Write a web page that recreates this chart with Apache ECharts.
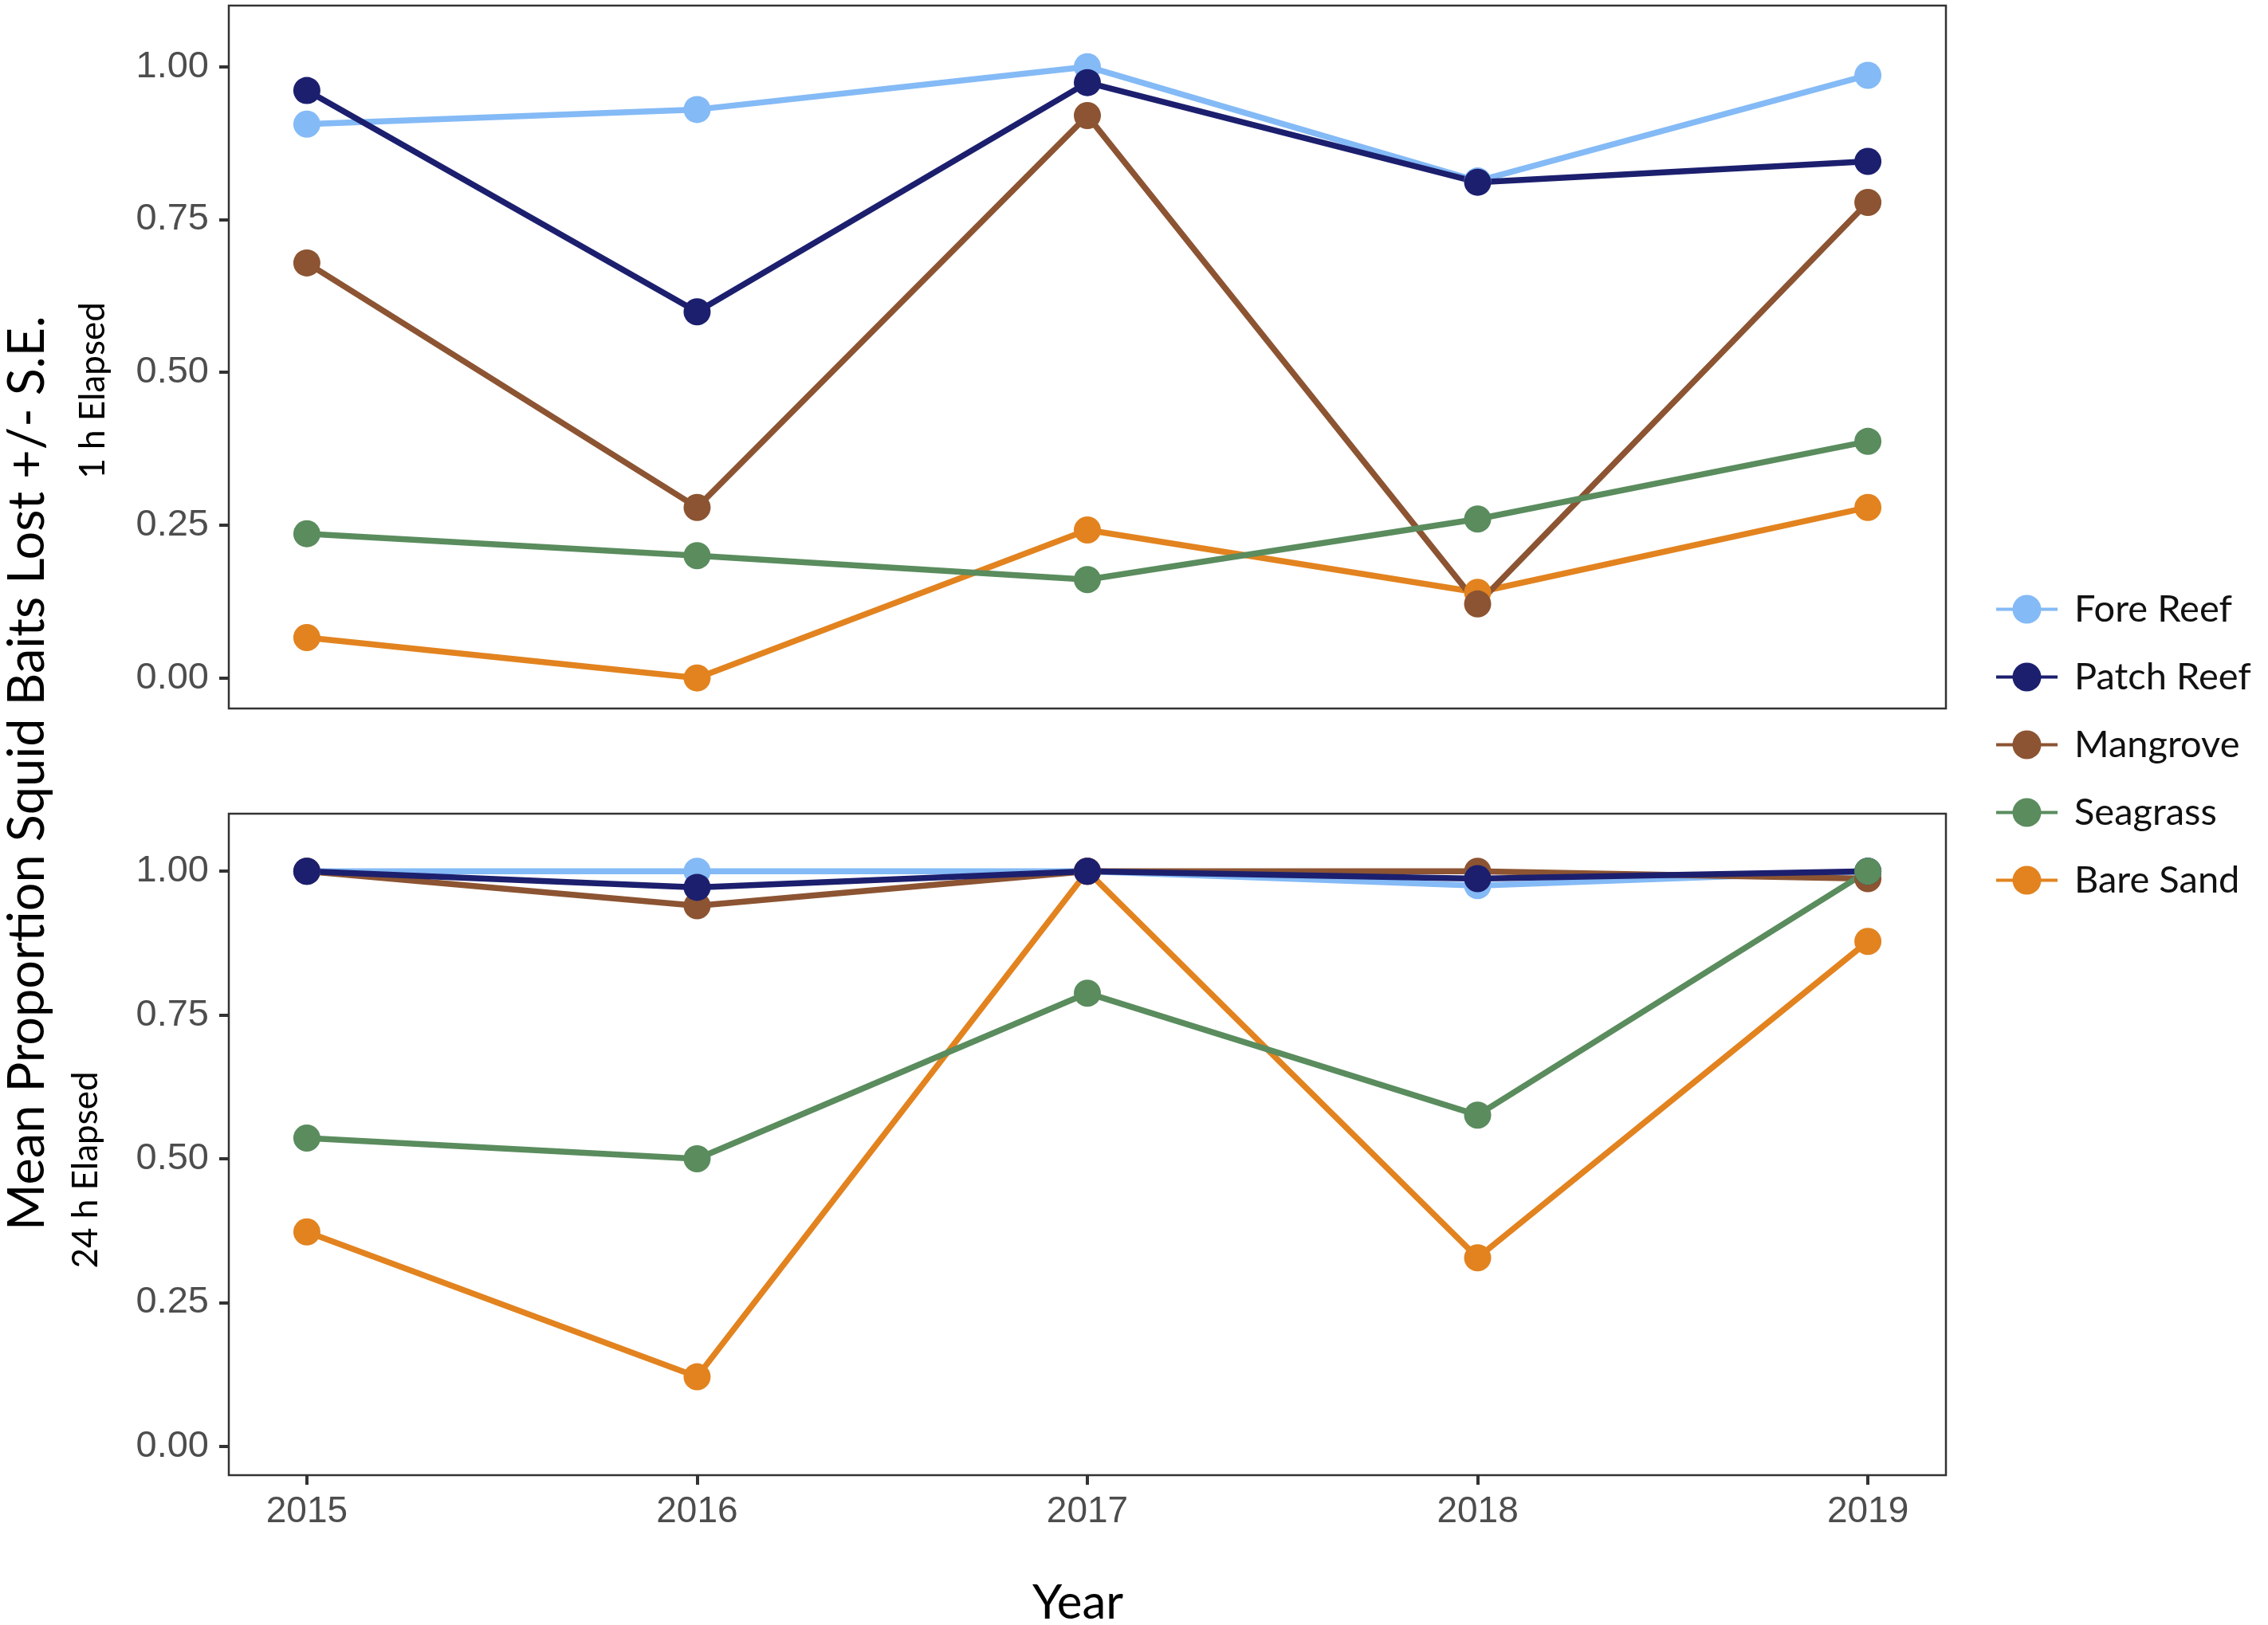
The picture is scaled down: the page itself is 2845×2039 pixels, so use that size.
<!DOCTYPE html>
<html>
<head>
<meta charset="utf-8">
<script src="https://cdn.jsdelivr.net/npm/echarts@6/dist/echarts.min.js"></script>
<style>
  html, body { margin: 0; padding: 0; background: #fff; }
  #chart { width: 2845px; height: 2039px; }
</style>
</head>
<body>
<div id="chart"></div>
<script>
// years on the x axis, tick values on the y axis
var years = [2015, 2016, 2017, 2018, 2019];
var yTicks = [0, 0.25, 0.5, 0.75, 1];
var habitats = ['Fore Reef', 'Patch Reef', 'Mangrove', 'Seagrass', 'Bare Sand'];

// 1 h elapsed
var fore1 = [0.906, 0.930, 1.000, 0.813, 0.986];
var patch1 = [0.961, 0.599, 0.974, 0.811, 0.845];
var mangrove1 = [0.679, 0.279, 0.920, 0.121, 0.778];
var seagrass1 = [0.236, 0.200, 0.161, 0.260, 0.387];
var bare1 = [0.066, 0.000, 0.242, 0.140, 0.279];

// 24 h elapsed
var fore24 = [1.000, 1.000, 1.000, 0.975, 1.000];
var patch24 = [1.000, 0.972, 1.000, 0.987, 1.000];
var mangrove24 = [1.000, 0.940, 1.000, 1.000, 0.987];
var seagrass24 = [0.536, 0.500, 0.788, 0.576, 1.000];
var bare24 = [0.373, 0.121, 1.000, 0.328, 0.878];

var colors = {
  'Fore Reef': '#84BAF6',
  'Patch Reef': '#1C1F6E',
  'Mangrove': '#8C5432',
  'Seagrass': '#5A8C5E',
  'Bare Sand': '#E2831F'
};

var textFont = 'Lato, "Open Sans", sans-serif';
var tickFont = '"Liberation Sans", Arial, sans-serif';

function pairs(vals) {
  return years.map(function (y, i) { return [y, vals[i]]; });
}

function lineSeries(name, vals, idx) {
  return {
    type: 'line',
    name: name,
    xAxisIndex: idx,
    yAxisIndex: idx,
    data: pairs(vals),
    symbol: 'circle',
    symbolSize: 34,
    lineStyle: { color: colors[name], width: 7.5 },
    itemStyle: { color: colors[name] },
    emphasis: { disabled: true }
  };
}

function xAxis(idx, showLabels) {
  return {
    type: 'value',
    gridIndex: idx,
    min: 2014.8,
    max: 2019.2,
    show: showLabels,
    axisLine: { show: false, onZero: false },
    splitLine: { show: false },
    axisTick: {
      show: showLabels, customValues: years, length: 12,
      lineStyle: { color: '#333', width: 4 }
    },
    axisLabel: {
      show: showLabels, customValues: years, margin: 23,
      fontFamily: tickFont, fontSize: 46, color: '#4d4d4d',
      formatter: function (v) { return String(v); }
    }
  };
}

function yAxis(idx) {
  return {
    type: 'value',
    gridIndex: idx,
    min: -0.05,
    max: 1.1,
    axisLine: { show: false, onZero: false },
    splitLine: { show: false },
    axisTick: {
      customValues: yTicks, length: 12,
      lineStyle: { color: '#333', width: 4 }
    },
    axisLabel: {
      customValues: yTicks, margin: 25,
      fontFamily: tickFont, fontSize: 47, color: '#4d4d4d',
      formatter: function (v) { return v.toFixed(2); }
    }
  };
}

// series drawn in this order so overlaps stack as in the figure
var drawOrder = [
  ['Fore Reef', fore1, fore24],
  ['Bare Sand', bare1, bare24],
  ['Mangrove', mangrove1, mangrove24],
  ['Patch Reef', patch1, patch24],
  ['Seagrass', seagrass1, seagrass24]
];
var series = [];
drawOrder.forEach(function (d) {
  series.push(lineSeries(d[0], d[1], 0));
  series.push(lineSeries(d[0], d[2], 1));
});

var chart = echarts.init(document.getElementById('chart'), null, { renderer: 'canvas' });
chart.setOption({
  animation: false,
  backgroundColor: '#fff',
  grid: [
    { left: 287, top: 7, width: 2154, height: 882, show: true, borderColor: '#333', borderWidth: 2.5, backgroundColor: 'transparent' },
    { left: 287, top: 1021, width: 2154, height: 830, show: true, borderColor: '#333', borderWidth: 2.5, backgroundColor: 'transparent' }
  ],
  xAxis: [xAxis(0, false), xAxis(1, true)],
  yAxis: [yAxis(0), yAxis(1)],
  legend: {
    data: habitats,
    orient: 'vertical',
    left: 2497,
    top: 736,
    itemWidth: 77,
    itemHeight: 45,
    itemGap: 38,
    lineStyle: { width: 4 },
    textStyle: { fontFamily: textFont, fontSize: 47, color: '#111', padding: [0, 0, 0, 16] },
    selectedMode: false
  },
  graphic: [
    {
      type: 'text', x: 35, y: 970, rotation: Math.PI / 2,
      style: { text: 'Mean Proportion Squid Baits Lost +/- S.E.', fontFamily: textFont, fontSize: 63, fill: '#000', align: 'center', verticalAlign: 'middle' }
    },
    {
      type: 'text', x: 117, y: 490, rotation: Math.PI / 2,
      style: { text: '1 h Elapsed', fontFamily: textFont, fontSize: 44, fill: '#000', align: 'center', verticalAlign: 'middle' }
    },
    {
      type: 'text', x: 108, y: 1468, rotation: Math.PI / 2,
      style: { text: '24 h Elapsed', fontFamily: textFont, fontSize: 44, fill: '#000', align: 'center', verticalAlign: 'middle' }
    },
    {
      type: 'text', x: 1352, y: 2012,
      style: { text: 'Year', fontFamily: textFont, fontSize: 60, fill: '#000', align: 'center', verticalAlign: 'middle' }
    }
  ],
  series: series
});

window.addEventListener('resize', function () { chart.resize(); });
</script>
</body>
</html>
